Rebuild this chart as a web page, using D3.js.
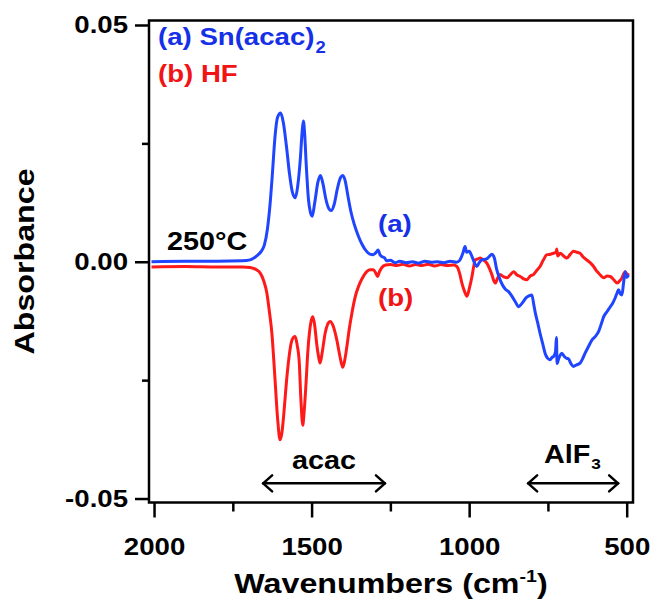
<!DOCTYPE html>
<html><head><meta charset="utf-8">
<script src="https://cdn.jsdelivr.net/npm/d3@7"></script>
<style>
html,body{margin:0;padding:0;background:#fff;}
svg text{font-family:"Liberation Sans",Arial,sans-serif;font-weight:bold;}
</style></head>
<body><svg id="chart" width="655" height="599"></svg>
<script>
// ---- data ----
const xTickValues = [2000, 1500, 1000, 500];
const xTickLabels = ["2000", "1500", "1000", "500"];
const xMinorTicks = [1750, 1250, 750];
const yTickValues = [-0.05, 0, 0.05];
const yTickLabels = ["-0.05", "0.00", "0.05"];
const yMinorTicks = [-0.025, 0.025];

const wavenumbersA = [2008,1900,1800,1720,1695,1675,1660,1650,1640,1632,1625,1616,1608,1598,1590,1580,1570,1562,1552,1544,1536,1530,1526,1522,1517,1510,1504,1498,1490,1480,1472,1464,1455,1445,1438,1428,1418,1408,1401,1393,1385,1375,1365,1352,1340,1328,1315,1305,1295,1289,1283,1277,1268,1262,1250,1235,1220,1200,1180,1160,1140,1120,1100,1080,1060,1040,1030,1020,1013,1008,1000,991,982,976,968,960,945,935,928,920,913,905,895,885,875,864,853,843,835,828,818,810,801,795,790,782,775,767,759,752,743,737,732,726,723,721,716,706,698,690,685,677,669,660,648,640,632,622,610,600,589,580,573,562,552,545,537,530,526,520,515,510,505,500,494];
const absorbanceA = [0,0.0001,0.0001,0.0002,0.0004,0.0012,0.0022,0.0035,0.0070,0.0120,0.0180,0.0265,0.0305,0.0314,0.0295,0.0245,0.0185,0.0150,0.0135,0.0160,0.0215,0.0275,0.0297,0.0270,0.0205,0.0132,0.0105,0.0096,0.0125,0.0168,0.0182,0.0165,0.0133,0.0112,0.0108,0.0122,0.0155,0.0178,0.0182,0.0170,0.0140,0.0105,0.0080,0.0055,0.0037,0.0024,0.0016,0.0015,0.0020,0.0025,0.0015,0.0011,0.0008,0.0002,0.0003,-0.0002,0.0001,-0.0002,0.0000,-0.0003,0.0001,-0.0001,0.0000,-0.0002,0.0001,-0.0001,0.0003,0.0018,0.0032,0.0020,0.0022,0.0011,-0.0004,-0.0010,-0.0002,0.0004,0.0006,0.0012,0.0016,0.0008,-0.0015,-0.0032,-0.0048,-0.0058,-0.0063,-0.0073,-0.0085,-0.0095,-0.0090,-0.0084,-0.0075,-0.0072,-0.0070,-0.0090,-0.0108,-0.0130,-0.0151,-0.0172,-0.0193,-0.0203,-0.0207,-0.0202,-0.0200,-0.0190,-0.0160,-0.0215,-0.0205,-0.0193,-0.0200,-0.0204,-0.0205,-0.0215,-0.0221,-0.0218,-0.0214,-0.0205,-0.0193,-0.0180,-0.0165,-0.0158,-0.0147,-0.0130,-0.0116,-0.0105,-0.0095,-0.0088,-0.0077,-0.0065,-0.0059,-0.0068,-0.0070,-0.0045,-0.0021,-0.0033,-0.0028];

const wavenumbersB = [2008,1900,1800,1720,1695,1675,1663,1652,1642,1634,1626,1616,1608,1600,1594,1588,1580,1574,1565,1558,1552,1546,1539,1534,1528,1524,1517,1512,1507,1501,1496,1490,1484,1478,1473,1466,1457,1449,1441,1432,1420,1410,1401,1394,1388,1380,1372,1362,1351,1340,1325,1314,1304,1297,1291,1284,1277,1265,1250,1230,1210,1190,1170,1150,1130,1110,1090,1070,1050,1039,1030,1023,1015,1007,999,991,985,981,972,965,955,944,935,928,922,917,910,902,890,880,870,859,848,838,827,817,806,796,785,775,765,753,742,732,724,722,719,711,700,690,680,669,658,648,638,627,616,605,597,589,581,573,562,552,541,530,522,515,510,505,500,494];
const absorbanceB = [-0.0011,-0.0010,-0.0011,-0.0011,-0.0012,-0.0017,-0.0024,-0.0040,-0.0066,-0.0105,-0.0151,-0.0249,-0.0330,-0.0376,-0.0360,-0.0320,-0.0255,-0.0215,-0.0172,-0.0160,-0.0158,-0.0175,-0.0214,-0.0290,-0.0345,-0.0320,-0.0249,-0.0190,-0.0151,-0.0124,-0.0116,-0.0135,-0.0172,-0.0200,-0.0214,-0.0190,-0.0151,-0.0132,-0.0126,-0.0135,-0.0165,-0.0200,-0.0223,-0.0205,-0.0179,-0.0140,-0.0108,-0.0075,-0.0052,-0.0036,-0.0021,-0.0017,-0.0017,-0.0023,-0.0031,-0.0020,-0.0012,-0.0007,-0.0006,-0.0008,-0.0005,-0.0009,-0.0006,-0.0008,-0.0005,-0.0009,-0.0006,-0.0008,-0.0007,-0.0010,-0.0025,-0.0045,-0.0062,-0.0073,-0.0055,-0.0031,-0.0008,0.0004,0.0006,0.0008,0.0004,-0.0003,-0.0015,-0.0027,-0.0040,-0.0045,-0.0035,-0.0027,-0.0032,-0.0034,-0.0028,-0.0021,-0.0028,-0.0031,-0.0036,-0.0038,-0.0030,-0.0027,-0.0018,-0.0010,0.0003,0.0015,0.0016,0.0018,0.0020,0.0027,0.0012,0.0018,0.0012,0.0008,0.0015,0.0022,0.0020,0.0018,0.0010,0.0004,-0.0002,-0.0010,-0.0018,-0.0024,-0.0030,-0.0034,-0.0030,-0.0031,-0.0038,-0.0045,-0.0040,-0.0034,-0.0026,-0.0021,-0.0027,-0.0024];

const seriesLabels = ["(a) Sn(acac)", "(b) HF"];
const seriesColors = ["#1f45ff", "#ff1a1a"];
const textColors = ["#1530e6", "#f01414"];

// ---- layout ----
const svg = d3.select("#chart");
const x = d3.scaleLinear().domain([2016, 480]).range([149, 633]);
const y = d3.scaleLinear().domain([-0.05084, 0.05095]).range([502.5, 20.5]);
const K = 1.15;

function stretch(sel, k) {
  sel.each(function () {
    const L = this.getComputedTextLength();
    d3.select(this).attr("textLength", L * k).attr("lengthAdjust", "spacingAndGlyphs");
  });
}

// curves
const line = d3.line().x(d => x(d[0])).y(d => y(d[1])).curve(d3.curveMonotoneX);
const dataA = wavenumbersA.map((w, i) => [w, absorbanceA[i]]);
const dataB = wavenumbersB.map((w, i) => [w, absorbanceB[i]]);
svg.append("path").datum(dataB).attr("d", line).attr("fill", "none")
  .attr("stroke", seriesColors[1]).attr("stroke-width", 3).attr("stroke-linejoin", "round");
svg.append("path").datum(dataA).attr("d", line).attr("fill", "none")
  .attr("stroke", seriesColors[0]).attr("stroke-width", 3).attr("stroke-linejoin", "round");

// frame
svg.append("rect").attr("x", x.range()[0]).attr("y", y.range()[1])
  .attr("width", x.range()[1] - x.range()[0]).attr("height", y.range()[0] - y.range()[1])
  .attr("fill", "none").attr("stroke", "#000").attr("stroke-width", 2.5);

// axes
const yAxis = d3.axisLeft(y).tickValues(yTickValues).tickFormat((d, i) => yTickLabels[i])
  .tickSize(14).tickSizeOuter(0).tickPadding(7);
const gy = svg.append("g").attr("transform", `translate(${x.range()[0]},0)`).call(yAxis);
const yMinor = d3.axisLeft(y).tickValues(yMinorTicks).tickFormat("").tickSize(7).tickSizeOuter(0);
const gym = svg.append("g").attr("transform", `translate(${x.range()[0]},0)`).call(yMinor);

const xAxis = d3.axisBottom(x).tickValues(xTickValues).tickFormat((d, i) => xTickLabels[i])
  .tickSize(15).tickSizeOuter(0).tickPadding(20);
const gx = svg.append("g").attr("transform", `translate(0,${y.range()[0]})`).call(xAxis);
const xMinor = d3.axisBottom(x).tickValues(xMinorTicks).tickFormat("").tickSize(9).tickSizeOuter(0);
const gxm = svg.append("g").attr("transform", `translate(0,${y.range()[0]})`).call(xMinor);

[gy, gym, gx, gxm].forEach(g => {
  g.select(".domain").remove();
  g.selectAll(".tick line").attr("stroke", "#000").attr("stroke-width", 2.5);
  g.selectAll("text").attr("font-size", 24).attr("fill", "#000")
    .style("font-family", '"Liberation Sans",Arial,sans-serif').style("font-weight", "bold");
});
stretch(gy.selectAll("text"), K);
stretch(gx.selectAll("text"), K);

// axis titles
const xt = svg.append("text").attr("x", (x.range()[0] + x.range()[1]) / 2).attr("y", 593)
  .attr("text-anchor", "middle").attr("font-size", 28);
xt.append("tspan").text("Wavenumbers (cm");
xt.append("tspan").text("-1").attr("font-size", 17).attr("dy", -11);
xt.append("tspan").text(")").attr("dy", 11);
stretch(xt, K);

const yt = svg.append("text").attr("transform", `translate(34,${(y.range()[0] + y.range()[1]) / 2}) rotate(-90)`)
  .attr("text-anchor", "middle").attr("font-size", 28).text("Absorbance");
stretch(yt, K);

// legend
function labelWithSub(x0, y0, main, sub, color, size, subSize, subDy) {
  const t = svg.append("text").attr("x", x0).attr("y", y0).attr("font-size", size)
    .attr("fill", color).text(main);
  stretch(t, K);
  const L = +t.attr("textLength");
  if (sub) {
    const s = svg.append("text").attr("x", x0 + L + 1).attr("y", y0 + subDy)
      .attr("font-size", subSize).attr("fill", color).text(sub);
    stretch(s, K);
  }
  return t;
}
labelWithSub(158, 45, seriesLabels[0], "2", textColors[0], 24, 16, 8);
labelWithSub(158, 82, seriesLabels[1], null, textColors[1], 24);

// annotations
stretch(svg.append("text").attr("x", 167).attr("y", 250).attr("font-size", 25).attr("fill", "#000").text("250°C"), K);
stretch(svg.append("text").attr("x", 378).attr("y", 232).attr("font-size", 24).attr("fill", textColors[0]).text("(a)"), K);
stretch(svg.append("text").attr("x", 378).attr("y", 306).attr("font-size", 24).attr("fill", textColors[1]).text("(b)"), K);

const acacArrow = [1657, 1264];
const alfArrow = [816, 524];
const arrowY = -0.0468;
stretch(svg.append("text").attr("x", x((acacArrow[0] + acacArrow[1]) / 2)).attr("y", 469)
  .attr("text-anchor", "middle").attr("font-size", 25).attr("fill", "#000").text("acac"), K);
labelWithSub(544, 463, "AlF", "3", "#000", 25, 15, 6);

function dblArrow(w0, w1) {
  const x0 = x(w0), x1 = x(w1), yy = y(arrowY);
  const g = svg.append("g").attr("stroke", "#000").attr("stroke-width", 2.5).attr("fill", "none")
    .attr("stroke-linecap", "round").attr("stroke-linejoin", "round");
  g.append("line").attr("x1", x0 + 1).attr("x2", x1 - 1).attr("y1", yy).attr("y2", yy);
  g.append("path").attr("d", `M${x0 + 10},${yy - 8} L${x0 + 1},${yy} L${x0 + 10},${yy + 8}`);
  g.append("path").attr("d", `M${x1 - 10},${yy - 8} L${x1 - 1},${yy} L${x1 - 10},${yy + 8}`);
}
dblArrow(acacArrow[0], acacArrow[1]);
dblArrow(alfArrow[0], alfArrow[1]);
</script></body></html>
